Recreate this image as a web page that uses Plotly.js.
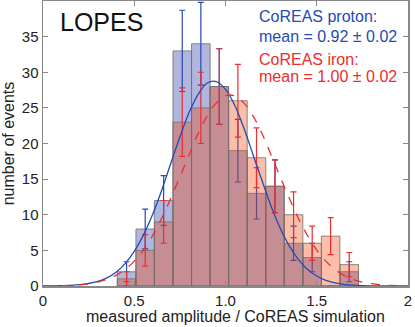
<!DOCTYPE html>
<html>
<head>
<meta charset="utf-8">
<script src="https://cdn.plot.ly/plotly-3.0.1.min.js"></script>
<style>
  html, body { margin: 0; padding: 0; background: #fff; }
  #plot1 { width: 415px; height: 327px; }
</style>
</head>
<body>
<div id="plot1"></div>
<script>
// histogram bins (centers) of measured / simulated amplitude
let binCenters = [0.458, 0.560, 0.661, 0.763, 0.865, 0.966, 1.068, 1.170, 1.271, 1.373, 1.475, 1.576, 1.678];
let binWidth = 0.1016;

// number of events per bin
let protonCounts = [2, 8, 12, 33, 34, 28, 19, 13, 14, 6, 4, 0, 2];
let ironCounts = [1, 5, 9, 23, 25, 28, 26, 18, 14, 10, 6, 7, 3];

// error bars
let protonErrors = [1.4, 2.8, 3.5, 5.7, 5.8, 5.3, 4.4, 3.6, 3.7, 2.4, 2.0, 0, 1.4];
let ironErrors = [1.0, 2.2, 3.0, 4.8, 5.0, 5.3, 5.1, 4.2, 3.7, 3.2, 2.4, 2.6, 1.7];

// fitted curves
let fitX = [0, 0.05, 0.1, 0.15, 0.2, 0.25, 0.3, 0.35, 0.4, 0.45, 0.5, 0.55, 0.6, 0.65, 0.7, 0.75, 0.8, 0.85, 0.9, 0.95,
            1.0, 1.05, 1.1, 1.15, 1.2, 1.25, 1.3, 1.35, 1.4, 1.45, 1.5, 1.55, 1.6, 1.65, 1.7, 1.75, 1.8, 1.85, 1.9, 1.95, 2.0];
let protonFit = [0.01, 0.02, 0.04, 0.09, 0.18, 0.35, 0.64, 1.15, 1.94, 3.15, 4.86, 7.14, 10.0, 13.4, 17.2, 20.9, 24.3, 26.9, 28.5, 28.7,
                 27.6, 25.4, 22.2, 18.5, 14.8, 11.2, 8.1, 5.6, 3.7, 2.3, 1.4, 0.8, 0.44, 0.23, 0.11, 0.05, 0.02, 0.01, 0, 0, 0];
let ironFit = [0.01, 0.02, 0.05, 0.09, 0.17, 0.32, 0.55, 0.92, 1.49, 2.32, 3.49, 5.05, 7.05, 9.47, 12.3, 15.3, 18.4, 21.4, 23.9, 25.7,
               26.7, 26.7, 25.7, 23.9, 21.4, 18.4, 15.3, 12.3, 9.47, 7.05, 5.05, 3.49, 2.32, 1.49, 0.92, 0.55, 0.32, 0.17, 0.09, 0.05, 0.02];

// tick labels
let xTicks = [0, 0.5, 1, 1.5, 2];
let xTickText = ["0", "0.5", "1.0", "1.5", "2"];
let yTicks = [0, 5, 10, 15, 20, 25, 30, 35];

let font = "Liberation Sans, Arial, sans-serif";
let blue = "rgb(35,75,180)";
let red = "rgb(235,45,45)";

let protonBars = {
    x: binCenters,
    y: protonCounts,
    width: binWidth,
    type: "bar",
    marker: { color: "rgba(97,109,189,0.5)", line: { color: "rgba(110,110,110,0.8)", width: 1 } },
    error_y: { type: "data", array: protonErrors, visible: true, color: blue, thickness: 1.2, width: 3 },
    hoverinfo: "skip"
};

let ironBars = {
    x: binCenters,
    y: ironCounts,
    width: binWidth,
    type: "bar",
    marker: { color: "rgba(240,70,12,0.35)", line: { color: "rgba(110,110,110,0.8)", width: 1 } },
    error_y: { type: "data", array: ironErrors, visible: true, color: red, thickness: 1.2, width: 3 },
    hoverinfo: "skip"
};

let protonLine = {
    x: fitX,
    y: protonFit,
    type: "scatter",
    mode: "lines",
    line: { color: blue, width: 1.3, shape: "spline" },
    hoverinfo: "skip"
};

let ironLine = {
    x: fitX,
    y: ironFit,
    type: "scatter",
    mode: "lines",
    line: { color: red, width: 1.3, dash: "dash", shape: "spline" },
    hoverinfo: "skip"
};

var data = [protonBars, ironBars, protonLine, ironLine];

var axisStyle = {
    showgrid: false,
    zeroline: false,
    showline: true,
    linecolor: "#888",
    linewidth: 1.5,
    mirror: "ticks",
    ticks: "inside",
    ticklen: 5,
    tickcolor: "#888",
    tickfont: { family: font, size: 15, color: "#222" }
};

var layout = {
    width: 415,
    height: 327,
    margin: { l: 43, r: 7, t: 1, b: 41 },
    paper_bgcolor: "#fff",
    plot_bgcolor: "#fff",
    barmode: "overlay",
    showlegend: false,
    xaxis: Object.assign({}, axisStyle, {
        range: [0, 2],
        tickvals: xTicks,
        ticktext: xTickText,
        title: { text: "" }
    }),
    yaxis: Object.assign({}, axisStyle, {
        range: [0, 40],
        tickvals: yTicks,
        title: { text: "number of events", font: { family: font, size: 16, color: "#222" }, standoff: 4 }
    }),
    annotations: [
        // x axis title, sits a little right of centre in the original
        { text: "measured amplitude / CoREAS simulation", xref: "paper", yref: "paper", x: 0.527, y: -0.108,
          xanchor: "center", yanchor: "middle", showarrow: false, font: { family: font, size: 16, color: "#222" } },
        { text: "LOPES", xref: "paper", yref: "paper", x: 0.041, y: 0.926, xanchor: "left", yanchor: "middle",
          showarrow: false, font: { family: font, size: 25, color: "#111" } },
        { text: "CoREAS proton:", xref: "paper", yref: "paper", x: 0.586, y: 0.944, xanchor: "left", yanchor: "middle",
          showarrow: false, font: { family: font, size: 16, color: blue } },
        { text: "mean = 0.92 ± 0.02", xref: "paper", yref: "paper", x: 0.586, y: 0.875, xanchor: "left", yanchor: "middle",
          showarrow: false, font: { family: font, size: 16, color: blue } },
        { text: "CoREAS iron:", xref: "paper", yref: "paper", x: 0.586, y: 0.796, xanchor: "left", yanchor: "middle",
          showarrow: false, font: { family: font, size: 16, color: red } },
        { text: "mean = 1.00 ± 0.02", xref: "paper", yref: "paper", x: 0.586, y: 0.735, xanchor: "left", yanchor: "middle",
          showarrow: false, font: { family: font, size: 16, color: red } }
    ]
};

Plotly.newPlot("plot1", data, layout, { staticPlot: true });
</script>
</body>
</html>
